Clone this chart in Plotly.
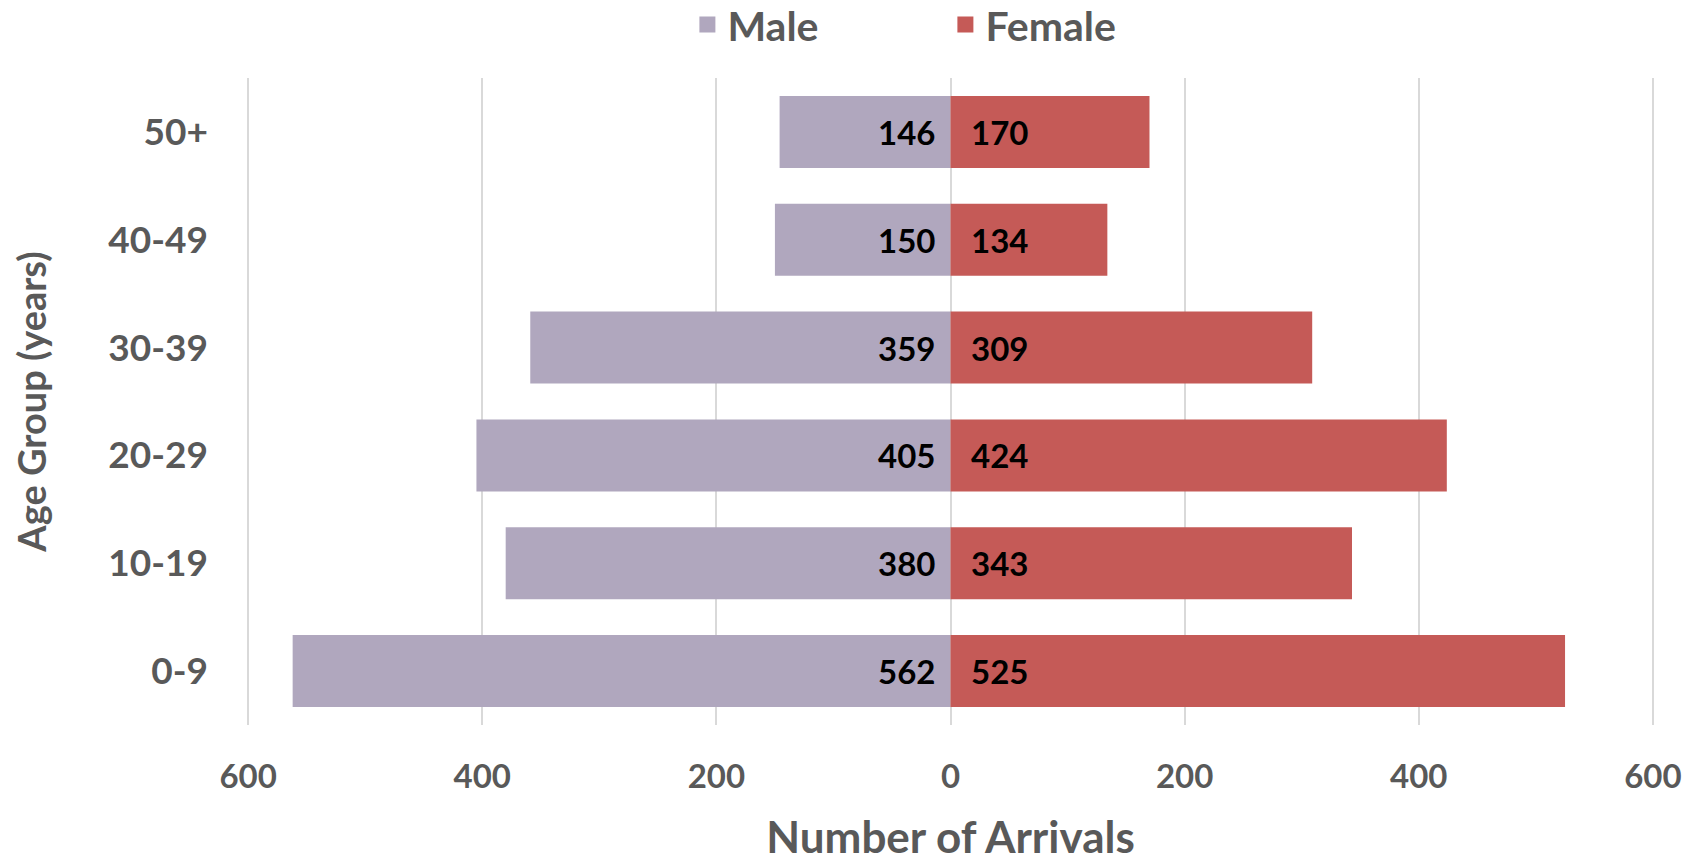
import plotly.graph_objects as go

age_groups = ["0-9", "10-19", "20-29", "30-39", "40-49", "50+"]
male = [562, 380, 405, 359, 150, 146]
female = [525, 343, 424, 309, 134, 170]
x_tick_vals = [-600, -400, -200, 0, 200, 400, 600]
x_tick_text = ["600", "400", "200", "0", "200", "400", "600"]

MALE_COLOR = "#B0A7BE"
FEMALE_COLOR = "#C55A57"
AXIS_TEXT = "#595959"
FONT = "Lato"

fig = go.Figure()
fig.add_trace(go.Bar(
    y=age_groups, x=[-v for v in male], orientation="h",
    marker=dict(color=MALE_COLOR, line=dict(width=0)),
    showlegend=False, name="Male", hoverinfo="skip",
))
fig.add_trace(go.Bar(
    y=age_groups, x=female, orientation="h",
    marker=dict(color=FEMALE_COLOR, line=dict(width=0)),
    showlegend=False, name="Female", hoverinfo="skip",
))
# legend entries
fig.add_trace(go.Scatter(x=[None], y=[None], mode="markers", name="Male",
                         marker=dict(symbol="square", size=20, color=MALE_COLOR)))
fig.add_trace(go.Scatter(x=[None], y=[None], mode="markers", name="Female",
                         marker=dict(symbol="square", size=20, color=FEMALE_COLOR)))

for g, m, f in zip(age_groups, male, female):
    fig.add_annotation(x=0, y=g, text=str(m), showarrow=False, xanchor="right",
                       xshift=-14, font=dict(family=FONT, size=33, color="black", weight="bold"))
    fig.add_annotation(x=0, y=g, text=str(f), showarrow=False, xanchor="left",
                       xshift=18, font=dict(family=FONT, size=33, color="black", weight="bold"))

fig.update_layout(
    width=1700, height=862,
    margin=dict(l=247, r=46, t=78, b=137, autoexpand=False),
    paper_bgcolor="white", plot_bgcolor="white",
    barmode="overlay", bargap=0.333,
    font=dict(family=FONT, color=AXIS_TEXT, weight="bold"),
    legend=dict(orientation="h", xref="paper", x=0.313, xanchor="left",
                yref="paper", y=1.082, yanchor="middle",
                entrywidth=213, entrywidthmode="pixels",
                font=dict(family=FONT, size=41, color=AXIS_TEXT, weight="bold")),
    xaxis=dict(
        range=[-601, 601], tickvals=x_tick_vals, ticktext=x_tick_text,
        showgrid=True, gridcolor="#D9D9D9", gridwidth=1.5, zeroline=False,
        showline=False, ticks="", ticklabelstandoff=29,
        tickfont=dict(family=FONT, size=33, color=AXIS_TEXT, weight="bold"),
        title=dict(text="Number of Arrivals", standoff=38,
                   font=dict(family=FONT, size=44, color=AXIS_TEXT, weight="bold")),
    ),
    yaxis=dict(
        categoryorder="array", categoryarray=age_groups,
        showgrid=False, showline=False, ticks="", ticklabelstandoff=38,
        tickfont=dict(family=FONT, size=37, color=AXIS_TEXT, weight="bold"),
        title=dict(text="Age Group (years)", standoff=50,
                   font=dict(family=FONT, size=38, color=AXIS_TEXT, weight="bold")),
    ),
)

fig.write_html("out.html")
